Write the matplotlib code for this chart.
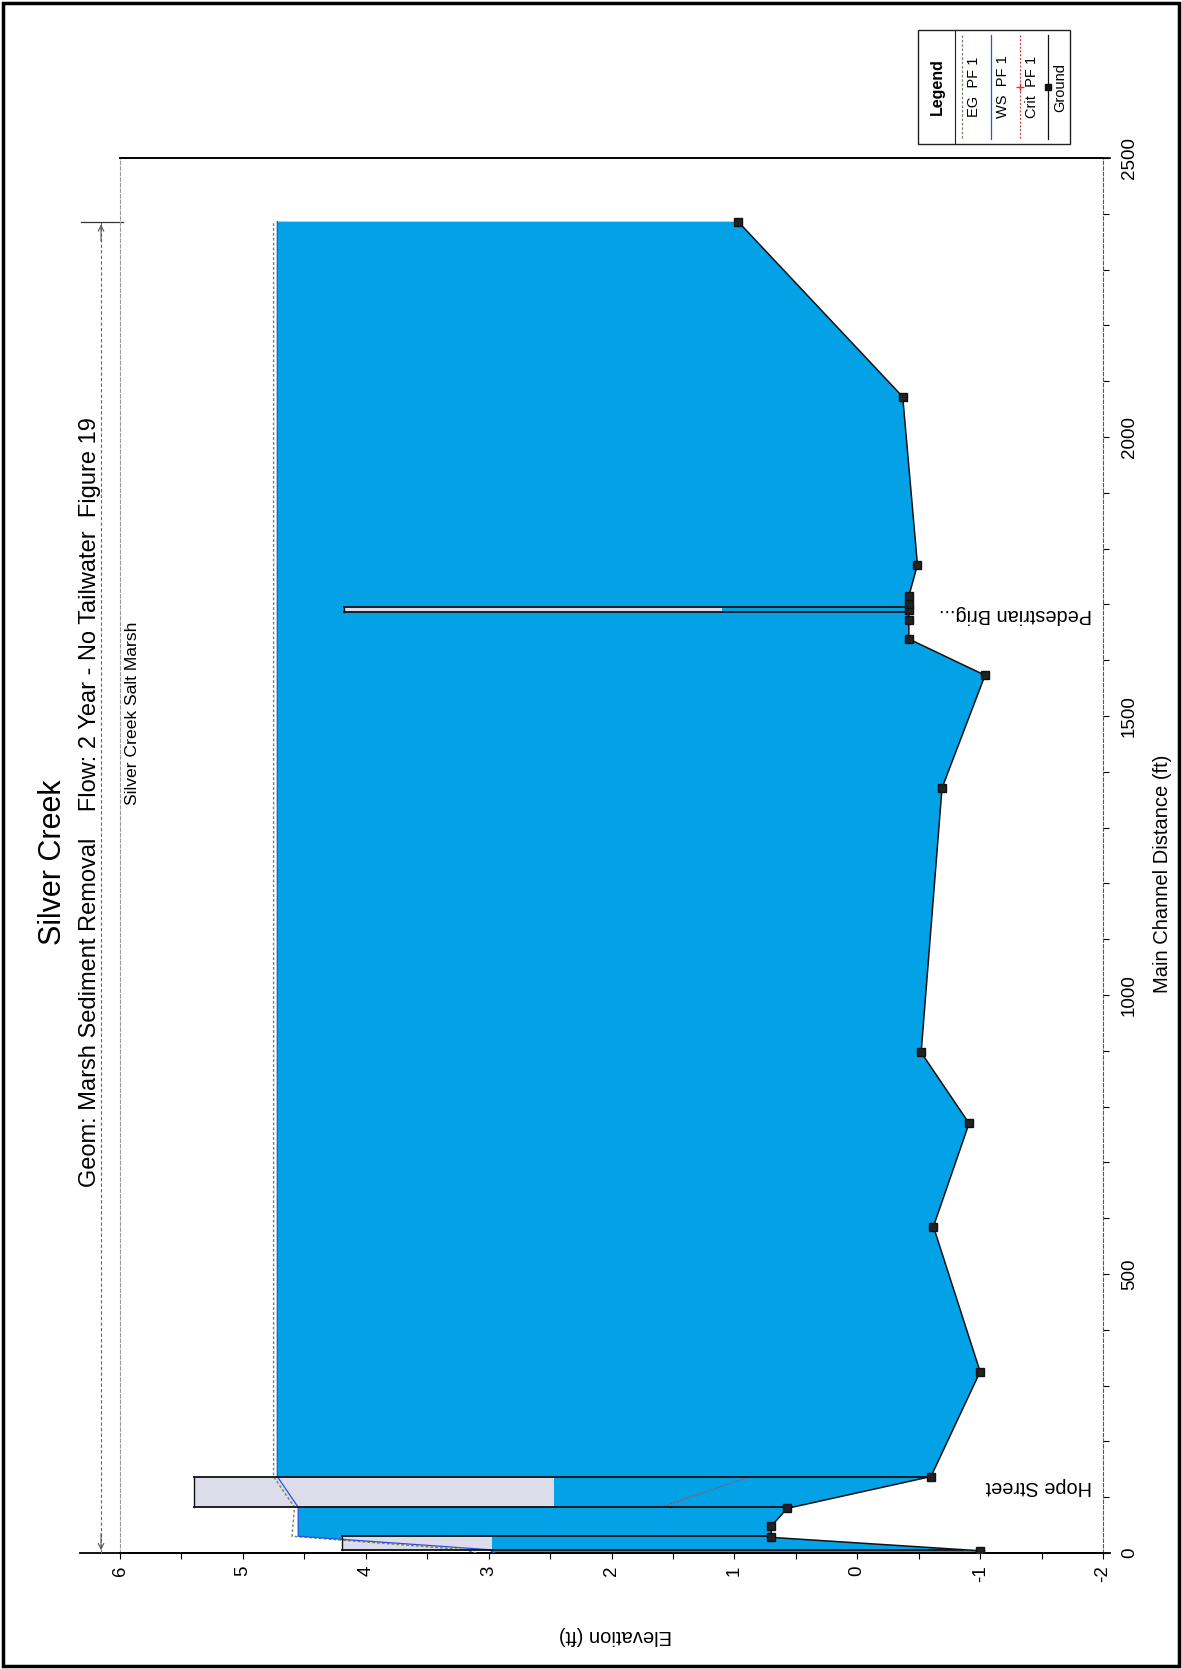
# Silver Creek profile plot (HEC-RAS style, page turned to portrait)

import matplotlib
matplotlib.use('Agg')
import matplotlib.pyplot as plt
import numpy as np
from matplotlib import font_manager
from matplotlib.lines import Line2D
from matplotlib.patches import Rectangle

W, H = 1182, 1669

# ground profile: main channel distance (ft) / elevation (ft)
ground_dist = [0, 4, 28, 48, 80, 137, 325, 585, 770, 897, 1371, 1573,
               1638, 1672, 1690, 1700, 1715, 1771, 2072, 2386]
ground_elev = [-1.0, -1.0, 0.70, 0.70, 0.57, -0.60, -1.0, -0.62, -0.91, -0.52,
               -0.69, -1.04, -0.42, -0.42, -0.42, -0.42, -0.42, -0.49, -0.37, 0.97]

# PF 1 results
ws_dist = [0, 6, 30, 82, 137, 2386]
ws_elev = [2.95, 3.0, 4.55, 4.55, 4.72, 4.72]
eg_dist = [0, 6, 30, 82, 137, 2386]
eg_elev = [3.1, 3.2, 4.60, 4.58, 4.75, 4.75]
crit_dist = [82, 137]
crit_elev = [1.6, 0.87]

# structures
struct_names = ['', 'Hope Street', 'Pedestrian Brig...']
struct_d0 = [6, 82, 1687]
struct_d1 = [30, 137, 1696]
struct_lo = [2.97, 2.47, 1.1]
struct_hi = [4.19, 5.40, 4.18]
struct_label_dist = [0, 120, 1682]

reach_name = 'Silver Creek Salt Marsh'
title = 'Silver Creek'
subtitle = 'Geom: Marsh Sediment Removal    Flow: 2 Year - No Tailwater  Figure 19'
legend_names = ['EG  PF 1', 'WS  PF 1', 'Crit  PF 1', 'Ground']

WATER = '#03a1e5'
DECK = '#dcdcea'

names = {f.name for f in font_manager.fontManager.ttflist}
plt.rcParams['font.family'] = ['Liberation Sans', 'DejaVu Sans']
plt.rcParams['axes.unicode_minus'] = False
if 'Liberation Sans Narrow' in names:
    narrow = ['Liberation Sans Narrow', 'Liberation Sans']
    nscale = 1.0
else:
    narrow = ['Liberation Sans', 'DejaVu Sans']
    nscale = 0.84


def fx(px):
    return px / W


def fy(py):
    return 1 - py / H


fig = plt.figure(figsize=(W / 100, H / 100), dpi=100)
ax = fig.add_axes([fx(120), fy(1553), (1103 - 120) / W, (1553 - 158) / H])
ax.set_xlim(6, -2)
ax.set_ylim(0, 2500)

# water
ax.fill(np.r_[ws_elev, ground_elev[::-1]], np.r_[ws_dist, ground_dist[::-1]],
        color=WATER, lw=0, zorder=1)

# structures
for d0, d1, lo, hi in zip(struct_d0, struct_d1, struct_lo, struct_hi):
    ax.fill_betweenx([d0, d1], lo, hi, color=DECK, lw=0, zorder=2)
    g0, g1 = np.interp([d0, d1], ground_dist, ground_elev)
    ax.plot([hi, g0], [d0, d0], color='#111111', lw=1.3, zorder=4)
    ax.plot([hi, g1], [d1, d1], color='#111111', lw=1.3, zorder=4)
    ax.plot([hi, hi], [d0, d1], color='#111111', lw=1.0, zorder=4)

ax.plot(eg_elev, eg_dist, color='#6c8a5c', lw=1.0, ls=(0, (2, 1.5)), zorder=3)
ax.plot(ws_elev, ws_dist, color='#2f4fe0', lw=0.9, zorder=3)
ax.plot(crit_elev, crit_dist, color='#d03a3a', lw=0.8, ls=(0, (1.5, 1.5)), zorder=3)
ax.plot(ground_elev, ground_dist, color='#111111', lw=1.1, marker='s', ms=5.5,
        mfc='#222222', mec='#111111', zorder=5)

# structure labels (upside down near the channel bottom)
for name, d in zip(struct_names, struct_label_dist):
    if name:
        ax.text(-1.91, d, name, rotation=180, rotation_mode='anchor', ha='left',
                va='center', fontsize=17 * nscale, family=narrow, zorder=6)

# axes frame
for side in ['left', 'right']:
    ax.spines[side].set_linestyle((0, (3, 2)))
    ax.spines[side].set_linewidth(0.8)
ax.spines['left'].set_color('#9a9a9a')
ax.spines['right'].set_color('#555555')
ax.spines['bottom'].set_linewidth(1.3)
ax.spines['top'].set_linewidth(1.2)
ax.add_line(Line2D([-0.041, 1.007], [0, 0], transform=ax.transAxes, color='black',
                   lw=1.3, clip_on=False))
ax.add_line(Line2D([0, 1.007], [1, 1], transform=ax.transAxes, color='black',
                   lw=1.2, clip_on=False))

ax.set_xticks(np.arange(-2, 7, 1))
ax.set_xticks(np.arange(-2, 6.01, 0.5), minor=True)
ax.set_yticks(np.arange(0, 2501, 500))
ax.set_yticks(np.arange(0, 2501, 100), minor=True)
ax.yaxis.tick_right()
ax.tick_params(axis='x', which='both', direction='out', length=4, width=0.8,
               labelrotation=90, labelsize=13.5, pad=5)
ax.tick_params(axis='y', which='both', direction='out', length=4, width=0.8,
               labelrotation=90, labelsize=13.5, pad=9)
for lbl in ax.get_yticklabels():
    lbl.set_va('center')

# reach indicator along the top of the original chart
trans = ax.get_yaxis_transform()
rx = -0.0193
ax.plot([rx, rx], [ground_dist[0], ground_dist[-1]], transform=trans, color='#666666',
        lw=0.8, ls=(0, (3, 2)), clip_on=False)
ax.annotate('', xy=(rx, ground_dist[0]), xytext=(rx, ground_dist[0] + 40),
            xycoords=trans, textcoords=trans,
            arrowprops=dict(arrowstyle='->', color='#555555', lw=0.8))
ax.annotate('', xy=(rx, ground_dist[-1]), xytext=(rx, ground_dist[-1] - 40),
            xycoords=trans, textcoords=trans,
            arrowprops=dict(arrowstyle='->', color='#555555', lw=0.8))
ax.plot([-0.04, 0.003], [ground_dist[-1], ground_dist[-1]], transform=trans,
        color='#333333', lw=0.9, clip_on=False)
ax.text(0.0132, 1505, reach_name, transform=trans, rotation=90, ha='center',
        va='center', fontsize=15 * nscale, family=narrow)

# titles and axis labels
fig.text(fx(53), fy(862), title, rotation=90, ha='center', va='center', fontsize=22)
fig.text(fx(90), fy(802), subtitle, rotation=90, ha='center', va='center', fontsize=17)
fig.text(fx(1163), fy(874), 'Main Channel Distance (ft)', rotation=90, ha='center',
         va='center', fontsize=14.5)
fig.text(fx(615), fy(1635), 'Elevation (ft)', rotation=180, ha='center', va='center',
         fontsize=14.5)

# legend box
lx0, lx1, ly0, ly1 = 918, 1070, 30, 144
fig.add_artist(Rectangle((fx(lx0), fy(ly1)), (lx1 - lx0) / W, (ly1 - ly0) / H,
                         transform=fig.transFigure, fill=False, lw=1.0, ec='#222222'))
fig.add_artist(Line2D([fx(955), fx(955)], [fy(ly0), fy(ly1)], transform=fig.transFigure,
                      color='#222222', lw=0.8))
fig.text(fx(937), fy(87), 'Legend', rotation=90, ha='center', va='center',
         fontsize=11.5, fontweight='bold')
styles = [dict(color='#6c8a5c', ls=(0, (2, 1.5))),
          dict(color='#2f4fe0', ls='-'),
          dict(color='#d03a3a', ls=(0, (1.5, 1.5)), marker='+', markevery=[1]),
          dict(color='#111111', ls='-', marker='s', ms=4, markevery=[1])]
for i, (name, st) in enumerate(zip(legend_names, styles)):
    x0 = 955 + i * 28.75
    fig.add_artist(Line2D([fx(x0 + 7)] * 3, [fy(35), fy(87), fy(139)],
                          transform=fig.transFigure, lw=0.9, **st))
    fig.text(fx(x0 + 19), fy(87), name, rotation=90, ha='center', va='center',
             fontsize=10.5)

# page border
fig.add_artist(Rectangle((fx(3), fy(H - 3)), (W - 6) / W, (H - 6) / H,
                         transform=fig.transFigure, fill=False, lw=2.5, ec='black'))

fig.savefig('out.png', dpi=100)
